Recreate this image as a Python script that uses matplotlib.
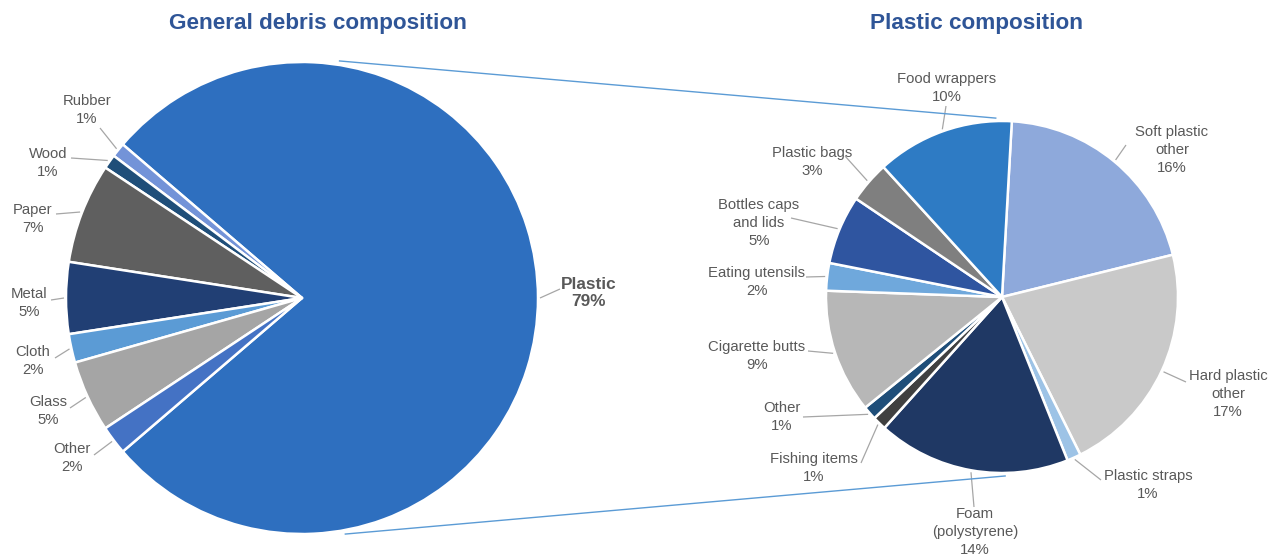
import numpy as np
import matplotlib
matplotlib.use("Agg")
import matplotlib.pyplot as plt

# ---------------- data ----------------
debris_labels = ["Plastic", "Rubber", "Wood", "Paper", "Metal", "Cloth", "Glass", "Other"]
debris_values = [79, 1, 1, 7, 5, 2, 5, 2]

plastic_labels = ["Soft plastic\nother", "Hard plastic\nother", "Plastic straps",
                  "Foam\n(polystyrene)", "Fishing items", "Other", "Cigarette butts",
                  "Eating utensils", "Bottles caps\nand lids", "Plastic bags", "Food wrappers"]
plastic_values = [16, 17, 1, 14, 1, 1, 9, 2, 5, 3, 10]

title_left = "General debris composition"
title_right = "Plastic composition"

# ---------------- styles / layout ----------------
debris_colors = ["#2E6FBF", "#7393D8", "#1F4E79", "#5F5F5F", "#213F74",
                 "#5B9BD5", "#A5A5A5", "#4472C4"]
plastic_colors = ["#8EA9DB", "#C9C9C9", "#9DC3E6", "#1F3864", "#404040", "#1F4E79",
                  "#B7B7B7", "#6FA8DC", "#2F55A0", "#7F7F7F", "#2E7BC4"]

W, H = 1271, 556
FONT = "Liberation Sans"
TXT = "#595959"
LEAD = "#A6A6A6"
FS = 10.7
LS = 1.32

left_c, left_r = (302, 298), 236
right_c, right_r = (1002, 297), 176

# label text centre (px from top-left) and leader start point near the text
left_lab = {
    "Plastic": ((589, 293), (560, 289)),
    "Rubber": ((87, 110), (100, 128)),
    "Wood": ((48, 163), (71, 158)),
    "Paper": ((33, 219), (56, 214)),
    "Metal": ((29, 303), (51, 300)),
    "Cloth": ((33, 361), (55, 358)),
    "Glass": ((48, 411), (70, 408)),
    "Other": ((72, 458), (94, 455)),
}
right_lab = [
    ((1172, 150), (1126, 145)),
    ((1228, 394), (1186, 382)),
    ((1148, 485), (1101, 480)),
    ((975, 532), (974, 507)),
    ((814, 468), (861, 463)),
    ((782, 417), (803, 417)),
    ((757, 356), (808, 351)),
    ((757, 282), (806, 277)),
    ((759, 223), (791, 218)),
    ((812, 162), (845, 156)),
    ((947, 88), (946, 106)),
]


def P(x, y):
    return (x, H - y)


fig = plt.figure(figsize=(W / 100, H / 100), dpi=100)
ax = fig.add_axes([0, 0, 1, 1])

# left pie: plastic centred on the right
plastic_angle = debris_values[0] / sum(debris_values) * 360
wl, _ = ax.pie(debris_values, colors=debris_colors, center=P(*left_c), radius=left_r,
               startangle=-plastic_angle / 2, counterclock=True,
               wedgeprops=dict(edgecolor="white", linewidth=1.8), frame=True)

# right pie
wr, _ = ax.pie(plastic_values, colors=plastic_colors, center=P(*right_c), radius=right_r,
               startangle=86.8, counterclock=False,
               wedgeprops=dict(edgecolor="white", linewidth=1.8), frame=True)
ax.set_xlim(0, W)
ax.set_ylim(0, H)
ax.set_aspect("equal")
ax.axis("off")


def edge_point(w, extra=2):
    th = np.deg2rad((w.theta1 + w.theta2) / 2)
    cx, cy = w.center
    r = w.r + extra
    return cx + r * np.cos(th), cy + r * np.sin(th)


# left labels
for w, name, val in zip(wl, debris_labels, debris_values):
    (tx, ty), (sx, sy) = left_lab[name]
    ex, ey = edge_point(w)
    sx, sy = P(sx, sy)
    ax.plot([sx, ex], [sy, ey], color=LEAD, lw=0.9, solid_capstyle="butt")
    bold = name == "Plastic"
    ax.text(*P(tx, ty), f"{name}\n{val}%", ha="center", va="center",
            fontsize=12.4 if bold else FS, fontweight="bold" if bold else "normal",
            color=TXT, family=FONT, linespacing=1.15 if bold else LS)

# right labels
for w, name, val, ((tx, ty), (sx, sy)) in zip(wr, plastic_labels, plastic_values, right_lab):
    ex, ey = edge_point(w)
    sx, sy = P(sx, sy)
    ax.plot([sx, ex], [sy, ey], color=LEAD, lw=0.9, solid_capstyle="butt")
    ax.text(*P(tx, ty), f"{name}\n{val}%", ha="center", va="center",
            fontsize=FS, color=TXT, family=FONT, linespacing=LS)

# connecting lines between pies
def on_circle(c, r, ang):
    a = np.deg2rad(ang)
    x, y = P(*c)
    return x + r * np.cos(a), y + r * np.sin(a)

for a1, a2 in [(81, 92), (-79.6, -89)]:
    p1 = on_circle(left_c, left_r + 4, a1)
    p2 = on_circle(right_c, right_r + 3, a2)
    ax.plot([p1[0], p2[0]], [p1[1], p2[1]], color="#5B9BD5", lw=1.0)

# titles
ax.text(*P(318, 24), title_left, ha="center", va="center", fontsize=16.2,
        fontweight="bold", color="#2F5597", family=FONT)
ax.text(*P(977, 24), title_right, ha="center", va="center", fontsize=16.2,
        fontweight="bold", color="#2F5597", family=FONT)

fig.savefig("out.png", dpi=100)
